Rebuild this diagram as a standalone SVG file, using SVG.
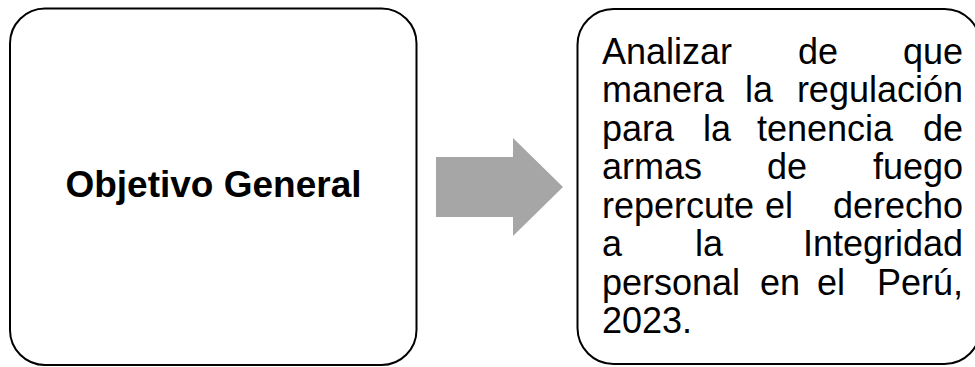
<svg xmlns="http://www.w3.org/2000/svg" width="975" height="367" viewBox="0 0 975 367">
<style>
.box{fill:#fff;stroke:#000;stroke-width:2}
.t{font-family:"Liberation Sans",Arial,sans-serif;font-size:36px;fill:#000}
.b{font-family:"Liberation Sans",Arial,sans-serif;font-size:37px;font-weight:bold;fill:#000}
.e{text-anchor:end}
</style>
<rect width="975" height="367" fill="#fff"/>
<g id="node-objetivo">
<rect class="box" x="10" y="8.5" width="406.5" height="356.5" rx="35" ry="35"/>
<text class="b" x="213.5" y="197" text-anchor="middle">Objetivo General</text>
</g>
<g id="connectors">
<polygon points="436,157 513,157 513,138 563,187 513,236 513,217 436,217" fill="#A6A6A6"/>
</g>
<g id="node-descripcion">
<rect class="box" x="577.5" y="9" width="403" height="355" rx="36" ry="36"/>
<text class="t" y="63.5"><tspan x="602">Analizar</tspan><tspan x="798">de</tspan><tspan x="963" class="e">que</tspan></text>
<text class="t" y="102"><tspan x="602">manera</tspan><tspan x="745">la</tspan><tspan x="963" class="e">regulación</tspan></text>
<text class="t" y="140.5"><tspan x="602">para</tspan><tspan x="703">la</tspan><tspan x="757">tenencia</tspan><tspan x="963" class="e">de</tspan></text>
<text class="t" y="179"><tspan x="602">armas</tspan><tspan x="767">de</tspan><tspan x="963" class="e">fuego</tspan></text>
<text class="t" y="217.5"><tspan x="602">repercute</tspan><tspan x="765">el</tspan><tspan x="963" class="e">derecho</tspan></text>
<text class="t" y="256"><tspan x="602">a</tspan><tspan x="695">la</tspan><tspan x="963" class="e">Integridad</tspan></text>
<text class="t" y="294.5"><tspan x="602">personal</tspan><tspan x="760">en</tspan><tspan x="817">el</tspan><tspan x="963" class="e">Perú,</tspan></text>
<text class="t" y="333" x="602">2023.</text>
</g>
</svg>
